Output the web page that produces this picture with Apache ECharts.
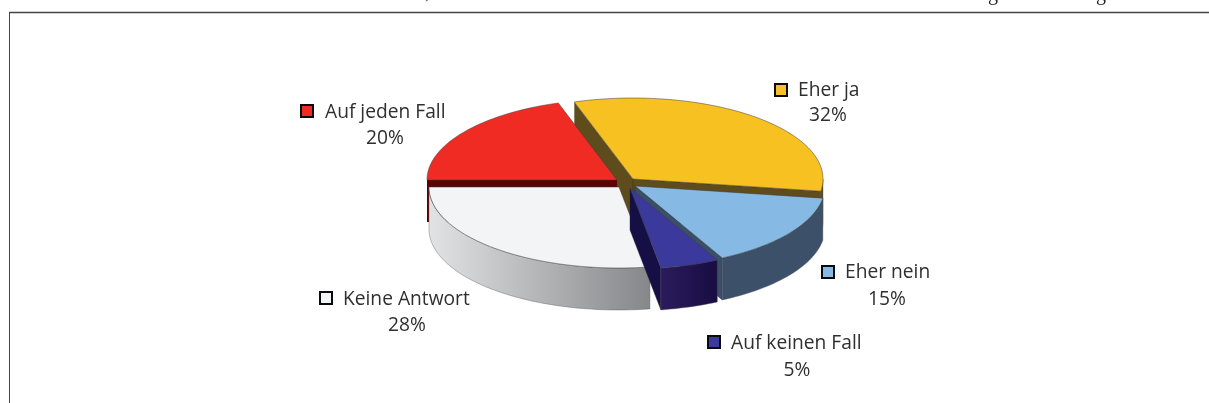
<!DOCTYPE html>
<html><head><meta charset="utf-8">
<style>html,body{margin:0;padding:0;background:#fff}#c{width:1209px;height:403px}</style>
<script src="https://cdn.jsdelivr.net/npm/echarts@6/dist/echarts.min.js"></script>
</head><body><div id="c"></div>
<script>
var categories = ['Auf jeden Fall', 'Eher ja', 'Eher nein', 'Auf keinen Fall', 'Keine Antwort'];
var values = [20, 32, 15, 5, 28];
var unroundedShares = [20, 32.4, 15, 5, 27.6];

var topColors = ['#ef2b24', '#f7c122', '#86b9e3', '#3b3a9c', '#f3f4f6'];
var faceColors = ['#5c0000', '#5f4c1c', '#3a4f68', '#150f45', '#888888'];
var wallLeft = ['#5c0000', '#5f4c1c', '#3d5069', '#2b1b5c', '#e2e3e4'];
var wallRight = ['#5c0000', '#5f4c1c', '#3d5069', '#180d42', '#85878a'];
var swatchOffsets = [[300, 104], [774, 83], [821, 265], [707, 335], [319, 291]];
var nameOffsets = [[325, 112], [798, 90], [845, 272], [731, 343], [343, 299]];
var pctCenters = [[385, 138], [828, 115], [887, 299], [797, 370], [407, 325]];
var apexes = [[617, 180], [633, 179], [635, 186], [630, 188], [619, 187]];
var paintOrder = [1, 0, 2, 4, 3];
var clippedGlyphs = [[',', 425, 2.5], ['g', 988, 5], ['g', 1096, 5]];
var RX = 190, RY = 81, DEPTH = 42, START = 270;
var FONT = '"Open Sans", "Noto Sans", sans-serif', FS = 19.2;

var total = unroundedShares.reduce(function (a, b) { return a + b; }, 0);
function pt(c, t, dy) {
  var r = t * Math.PI / 180;
  return [c[0] + RX * Math.sin(r), c[1] - RY * Math.cos(r) + (dy || 0)];
}
function arc(c, a, b, dy) {
  var n = Math.max(2, Math.ceil(Math.abs(b - a) / 1.5)), out = [];
  for (var i = 0; i <= n; i++) out.push(pt(c, a + (b - a) * i / n, dy));
  return out;
}
function poly(points, fill, stroke, lw, z2) {
  return { type: 'polygon', shape: { points: points }, z2: z2,
    style: { fill: fill, stroke: stroke || null, lineWidth: lw || 0 } };
}
function renderSlice(params, api) {
  var i = params.dataIndex, before = 0;
  for (var k = 0; k < i; k++) before += unroundedShares[k];
  var t1 = START + before / total * 360, t2 = t1 + api.value(2) / total * 360;
  var c = apexes[i], base = paintOrder[i] * 10, kids = [];
  var sin = function (t) { return Math.sin(t * Math.PI / 180); };
  if (sin(t1) < -1e-6) {
    var p = pt(c, t1), q = pt(c, t1, DEPTH);
    kids.push(poly([c, p, q, [c[0], c[1] + DEPTH]], faceColors[i], null, 0, base));
  }
  if (sin(t2) > 1e-6) {
    var p2 = pt(c, t2), q2 = pt(c, t2, DEPTH);
    kids.push(poly([c, p2, q2, [c[0], c[1] + DEPTH]], faceColors[i], '#1c2635', 0.4, base));
  }
  for (var w = 0; w < 2; w++) {
    var lo = Math.max(t1, w === 0 ? 90 : 450), hi = Math.min(t2, w === 0 ? 270 : 630);
    if (hi > lo) {
      var up = arc(c, lo, hi, 0), dn = arc(c, hi, lo, DEPTH);
      var xa = pt(c, lo)[0], xb = pt(c, hi)[0];
      var grad = new echarts.graphic.LinearGradient(Math.min(xa, xb), 0, Math.max(xa, xb), 0, [
        { offset: 0, color: wallLeft[i] },
        { offset: 1, color: wallRight[i] }
      ], true);
      kids.push(poly(up.concat(dn), grad, '#555', 0.4, base + 1));
    }
  }
  kids.push(poly([c].concat(arc(c, t1, t2, 0)), topColors[i], '#3a3a3a', 0.5, base + 2));
  var s = swatchOffsets[i], n = nameOffsets[i], m = pctCenters[i];
  kids.push({ type: 'rect', shape: { x: s[0] + 1, y: s[1] + 1, width: 12, height: 12 }, z2: 100,
    style: { fill: topColors[i], stroke: '#0b0b0b', lineWidth: 2 } });
  kids.push({ type: 'text', x: n[0], y: n[1] + 1, z2: 100,
    style: { text: categories[i], fill: '#2f2f2f', font: FS + 'px ' + FONT, textAlign: 'left', textVerticalAlign: 'middle' } });
  kids.push({ type: 'text', x: m[0], y: m[1] + 1, z2: 100,
    style: { text: api.value(1) + '%', fill: '#2f2f2f', font: FS + 'px ' + FONT, textAlign: 'center', textVerticalAlign: 'middle' } });
  return { type: 'group', children: kids };
}
var chart = echarts.init(document.getElementById('c'), null, { renderer: 'canvas' });
var glyphs = clippedGlyphs.map(function (g) {
  return { type: 'text', x: g[1], y: g[2], style: { text: g[0], fill: '#222', font: '20px "Liberation Serif", serif', textAlign: 'left', textVerticalAlign: 'bottom' } };
});
chart.setOption({
  animation: false,
  backgroundColor: '#ffffff',
  graphic: [
    { type: 'line', shape: { x1: 9.5, y1: 12.5, x2: 1209, y2: 12.5 }, style: { stroke: '#444', lineWidth: 1.5 } },
    { type: 'line', shape: { x1: 9.5, y1: 12, x2: 9.5, y2: 403 }, style: { stroke: '#444', lineWidth: 1 } }
  ].concat(glyphs),
  series: [{
    type: 'custom',
    coordinateSystem: 'none',
    renderItem: renderSlice,
    data: values.map(function (v, i) { return [i, v, unroundedShares[i]]; })
  }]
});
</script></body></html>
